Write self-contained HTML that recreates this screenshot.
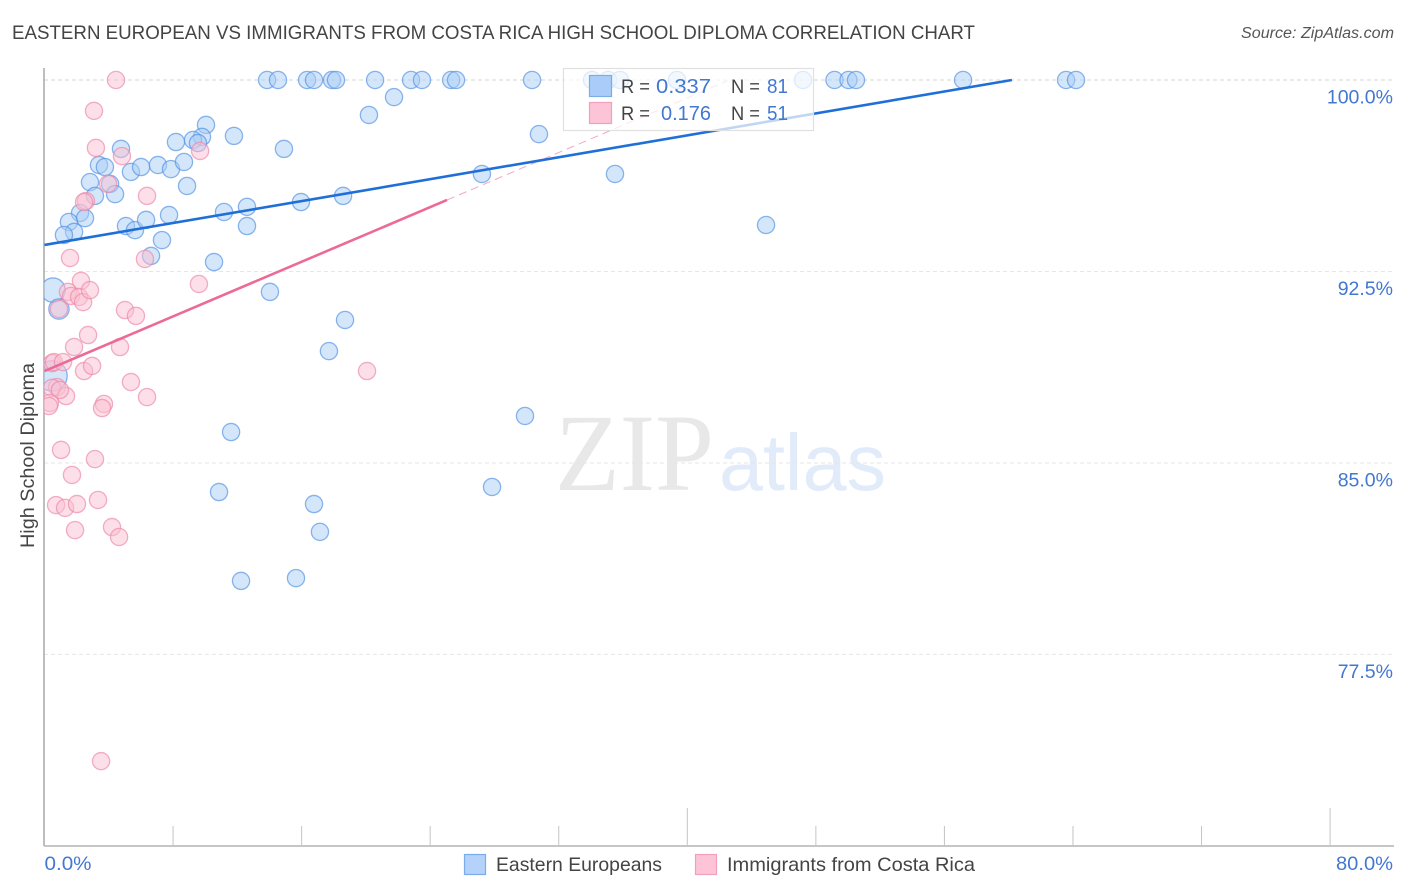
<!DOCTYPE html>
<html lang="en">
<head>
<meta charset="utf-8">
<title>Eastern European vs Immigrants from Costa Rica High School Diploma Correlation Chart</title>
<style>
html,body{margin:0;padding:0;background:#fff;}
svg{display:block;font-family:"Liberation Sans",sans-serif;}
</style>
</head>
<body>
<svg id="chart" width="1406" height="892" viewBox="0 0 1406 892" xmlns="http://www.w3.org/2000/svg">
<defs><clipPath id="plot-clip"><rect x="44" y="60" width="1350" height="786"/></clipPath></defs>
<rect x="0" y="0" width="1406" height="892" fill="#fff"/>
<text x="12" y="39" font-size="19.5" fill="#444" textLength="963" lengthAdjust="spacingAndGlyphs">EASTERN EUROPEAN VS IMMIGRANTS FROM COSTA RICA HIGH SCHOOL DIPLOMA CORRELATION CHART</text>
<text x="1394" y="38" font-size="15.5" font-style="italic" fill="#555" text-anchor="end" textLength="153" lengthAdjust="spacingAndGlyphs">Source: ZipAtlas.com</text>
<text transform="translate(34 455.5) rotate(-90)" font-size="19" fill="#444" text-anchor="middle" textLength="185" lengthAdjust="spacingAndGlyphs">High School Diploma</text>
<text x="555" y="490" font-family="'Liberation Serif',serif" font-size="110" fill="#e8e8e8" textLength="159" lengthAdjust="spacingAndGlyphs">ZIP</text>
<text x="719" y="490" font-size="80" fill="#e1ebf9" textLength="167" lengthAdjust="spacingAndGlyphs">atlas</text>
<g id="grid-layer"></g>
<g id="axis-layer"></g>
<g id="eastern-layer" clip-path="url(#plot-clip)"></g>
<g id="costa-rica-layer" clip-path="url(#plot-clip)"></g>
<g id="trend-layer"></g>
<g>
<rect x="563.5" y="68.5" width="250" height="62" fill="#fff" fill-opacity="0.72" stroke="#e0e0e0" stroke-width="1.2"/>
<rect x="589.5" y="75.5" width="22" height="21" fill="#a9cdf8" stroke="#7aaceb" stroke-width="1.2"/>
<rect x="589.5" y="102.5" width="22" height="21" fill="#fcc4d6" stroke="#f0a0ba" stroke-width="1.2"/>
<text x="621" y="93" font-size="19" fill="#444" textLength="29" lengthAdjust="spacingAndGlyphs">R =</text>
<text x="656" y="93" font-size="20" fill="#4278d2" textLength="55" lengthAdjust="spacingAndGlyphs">0.337</text>
<text x="731" y="93" font-size="19" fill="#444" textLength="29" lengthAdjust="spacingAndGlyphs">N =</text>
<text x="767" y="93" font-size="20" fill="#4278d2" textLength="21" lengthAdjust="spacingAndGlyphs">81</text>
<text x="621" y="120" font-size="19" fill="#444" textLength="29" lengthAdjust="spacingAndGlyphs">R =</text>
<text x="661" y="120" font-size="20" fill="#4278d2" textLength="50" lengthAdjust="spacingAndGlyphs">0.176</text>
<text x="731" y="120" font-size="19" fill="#444" textLength="29" lengthAdjust="spacingAndGlyphs">N =</text>
<text x="767" y="120" font-size="20" fill="#4278d2" textLength="21" lengthAdjust="spacingAndGlyphs">51</text>
</g>
<g>
<rect x="464.5" y="854.5" width="21" height="20" fill="#b5d3fa" stroke="#7aaceb" stroke-width="1.2"/>
<text x="496" y="871" font-size="19.5" fill="#444" textLength="166" lengthAdjust="spacingAndGlyphs">Eastern Europeans</text>
<rect x="695.5" y="854.5" width="21" height="20" fill="#fcc4d6" stroke="#f0a0ba" stroke-width="1.2"/>
<text x="727" y="871" font-size="19.5" fill="#444" textLength="248" lengthAdjust="spacingAndGlyphs">Immigrants from Costa Rica</text>
</g>
<script>
const yTicks = [100, 92.5, 85, 77.5];
const yTickLabels = ["100.0%", "92.5%", "85.0%", "77.5%"];
const xTicks = [8, 16, 24, 32, 40, 48, 56, 64, 72, 80];
const xMajorTicks = [40, 80];
const xEndLabels = ["0.0%", "80.0%"];
const xEndValues = [0, 80];

const easternX = [13.85,14.53,16.34,16.77,17.89,18.14,20.57,22.81,23.49,25.30,25.61,30.34,34.07,35.07,35.81,39.36,47.20,49.16,50.03,50.50,57.16,63.57,64.19,
10.05,9.80,9.24,9.55,8.18,11.79,14.90,4.76,3.39,3.76,5.38,6.01,7.06,7.87,8.68,8.87,2.83,4.08,4.39,3.14,2.21,2.52,1.52,1.84,1.21,5.07,5.63,6.32,7.75,7.31,6.63,10.55,11.17,12.60,12.60,15.96,18.58,14.03,
18.70,17.70,20.19,21.75,30.77,27.22,35.50,44.90,29.90,27.85,11.61,10.86,16.77,17.14,12.23,15.65];
const easternY = [100,100,100,100,100,100,100,100,100,100,100,100,100,100,100,100,100,100,100,100,100,100,100,
98.24,97.77,97.65,97.53,97.57,97.81,97.30,97.30,96.67,96.59,96.40,96.59,96.67,96.51,96.79,95.85,96.00,95.93,95.53,95.46,94.79,94.59,94.44,94.05,93.93,94.28,94.12,94.52,94.71,93.73,93.11,92.87,94.83,95.03,94.28,95.22,95.46,91.70,
90.60,89.38,98.63,99.33,97.88,96.32,96.32,94.32,86.84,84.06,86.21,83.86,83.39,82.30,80.38,80.49];
const easternLargeX = [0.53, 0.90, 0.47];
const easternLargeY = [91.77, 91.03, 88.41];
const easternLargeWeight = [2.0, 1.4, 3.1];

const costaRicaX = [4.45,3.08,3.20,4.82,9.68,3.95,2.58,2.46,6.38,6.25,1.59,9.61,2.27,1.46,1.65,2.15,2.40,2.83,0.90,5.01,5.69,2.71,1.84,4.70,0.47,0.59,1.15,2.46,2.96,5.38,6.38,0.78,0.47,1.34,0.96,0.34,0.28,3.70,3.58,1.03,3.14,1.71,0.72,1.28,2.02,3.33,1.90,4.20,4.64,20.07,3.52];
const costaRicaY = [100,98.79,97.34,97.02,97.22,95.93,95.26,95.22,95.46,92.99,93.03,92.01,92.13,91.70,91.54,91.50,91.30,91.77,91.03,90.99,90.76,90.01,89.54,89.54,88.91,88.95,88.95,88.60,88.80,88.17,87.58,87.97,87.94,87.62,87.86,87.35,87.23,87.31,87.15,85.51,85.15,84.53,83.35,83.24,83.39,83.55,82.37,82.49,82.10,88.60,73.32];

const easternTrend = [93.54, 0.1073];
const easternTrendEnd = [60.2];
const costaRicaTrend = [88.6, 0.2675];
const costaRicaTrendSolidEnd = [25.05];
const costaRicaTrendDashEnd = [42.5];

const NS = "http://www.w3.org/2000/svg";
function sx(v){ return 44.5 + v * 16.07; }
function sy(v){ return 80 + (100 - v) * 25.53; }
function make(tag, parent, attrs){
  const el = document.createElementNS(NS, tag);
  for (const k in attrs) el.setAttribute(k, attrs[k]);
  document.getElementById(parent).appendChild(el);
  return el;
}

yTicks.forEach(function(t, i){
  const g = make("line", "grid-layer", {x1:44, x2:1394, y1:sy(t), y2:sy(t), stroke: i === 0 ? "#d4d4d4" : "#e6e6e6", "stroke-width":1, "stroke-dasharray":"4 3"});
  
  
  const l = make("text", "axis-layer", {x:1393, y:sy(t) + 23.5, "font-size":19.5, fill:"#4278d2", "text-anchor":"end"});
  l.textContent = yTickLabels[i];
  
  
});

const yAxis = make("line", "axis-layer", {x1:44, x2:44, y1:68, y2:846, stroke:"#a8a8a8", "stroke-width":1.5});


const xAxis = make("line", "axis-layer", {x1:44, x2:1394, y1:846, y2:846, stroke:"#b4b4b4", "stroke-width":1.5});



xTicks.forEach(function(t){
  const major = xMajorTicks.indexOf(t) >= 0;
  const k = make("line", "axis-layer", {x1:sx(t), x2:sx(t), y1: major ? 808 : 826, y2:846, stroke:"#c4c4c4", "stroke-width":1});
  
  
});

xEndLabels.forEach(function(txt, i){
  const atEnd = i === 1;
  const l = make("text", "axis-layer", {x: atEnd ? 1393 : sx(xEndValues[i]), y:870, "font-size":19.5, fill:"#4278d2", "text-anchor": atEnd ? "end" : "start", textLength: atEnd ? 57 : 47, lengthAdjust:"spacingAndGlyphs"});
  l.textContent = txt;
  
  
});

function drawPoint(layer, x, y, r, fill, stroke){
  const c = make("circle", layer, {cx:sx(x), cy:sy(y), r:r, fill:fill, "fill-opacity":0.5, stroke:stroke, "stroke-opacity":0.65, "stroke-width":1.3});
  return c;
}
easternX.forEach(function(x, i){
  const c = drawPoint("eastern-layer", x, easternY[i], 8.6, "#aacdf6", "#4f8fe3");
  
  
});
easternLargeX.forEach(function(x, i){
  const c = drawPoint("eastern-layer", x, easternLargeY[i], 8.6 * Math.sqrt(easternLargeWeight[i]), "#aacdf6", "#4f8fe3");
  
  
});
costaRicaX.forEach(function(x, i){
  const c = drawPoint("costa-rica-layer", x, costaRicaY[i], 8.6, "#fac0d2", "#ec86a6");
  
  
});

function trendY(trend, x){ return trend[0] + trend[1] * x; }
const crDash = make("line", "trend-layer", {x1:sx(costaRicaTrendSolidEnd[0]), y1:sy(trendY(costaRicaTrend, costaRicaTrendSolidEnd[0])), x2:sx(costaRicaTrendDashEnd[0]), y2:sy(trendY(costaRicaTrend, costaRicaTrendDashEnd[0])), stroke:"#ec6a96", "stroke-width":1, "stroke-opacity":0.6, "stroke-dasharray":"8 5"});


const crLine = make("line", "trend-layer", {x1:sx(0), y1:sy(trendY(costaRicaTrend, 0)), x2:sx(costaRicaTrendSolidEnd[0]), y2:sy(trendY(costaRicaTrend, costaRicaTrendSolidEnd[0])), stroke:"#ec6a96", "stroke-width":2.6});


const eLine = make("line", "trend-layer", {x1:sx(0), y1:sy(trendY(easternTrend, 0)), x2:sx(easternTrendEnd[0]), y2:sy(trendY(easternTrend, easternTrendEnd[0])), stroke:"#1f6fd8", "stroke-width":2.6});


</script>
</svg>
</body>
</html>
